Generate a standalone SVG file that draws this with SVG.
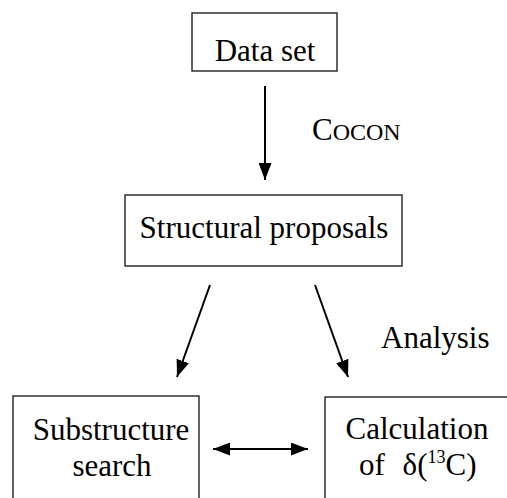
<svg xmlns="http://www.w3.org/2000/svg" width="507" height="498" viewBox="0 0 507 498" font-family="'Liberation Serif', 'Times New Roman', serif">
<defs>
<marker id="ah" viewBox="0 0 17 13" refX="17" refY="6.5" markerWidth="17" markerHeight="13" markerUnits="userSpaceOnUse" orient="auto-start-reverse">
<path d="M0,0 L17,6.5 L0,13 Z" fill="#000"/>
</marker>
<style>
.box{fill:#fff;stroke:#222;stroke-width:1.4}
.t{font-family:'Liberation Serif','Times New Roman',serif;font-size:31px;fill:#000}
.c{text-anchor:middle}
.edge{stroke:#000;stroke-width:2;fill:none}
</style>
</defs>
<rect width="507" height="498" fill="#fff"/>
<g id="data-set">
<rect class="box" x="192" y="13" width="145" height="58"/>
<text class="t c" x="265" y="61" font-size="32">Data set</text>
</g>
<g id="structural-proposals">
<rect class="box" x="125" y="195" width="277" height="71"/>
<text class="t c" x="264" y="238">Structural proposals</text>
</g>
<g id="substructure-search">
<rect class="box" x="13" y="396" width="186" height="120"/>
<text class="t c" x="111" y="440" font-size="30">Substructure</text>
<text class="t c" x="112" y="476" font-size="30">search</text>
</g>
<g id="calculation">
<rect class="box" x="325" y="397" width="200" height="120"/>
<text class="t c" x="417" y="439">Calculation</text>
<text class="t" x="359" y="475">of <tspan dx="10">δ(</tspan><tspan font-size="18" dy="-12">13</tspan><tspan dy="12">C)</tspan></text>
</g>
<g id="connectors">
<line class="edge" x1="265" y1="86" x2="265" y2="180" marker-end="url(#ah)"/>
<line class="edge" x1="210" y1="285" x2="177" y2="377" marker-end="url(#ah)"/>
<line class="edge" x1="315" y1="285" x2="348" y2="377" marker-end="url(#ah)"/>
<line class="edge" x1="213" y1="449" x2="308" y2="449" marker-start="url(#ah)" marker-end="url(#ah)"/>
<text class="t" x="312" y="140">C<tspan font-size="24">OCON</tspan></text>
<text class="t" x="381" y="348">Analysis</text>
</g>
</svg>
